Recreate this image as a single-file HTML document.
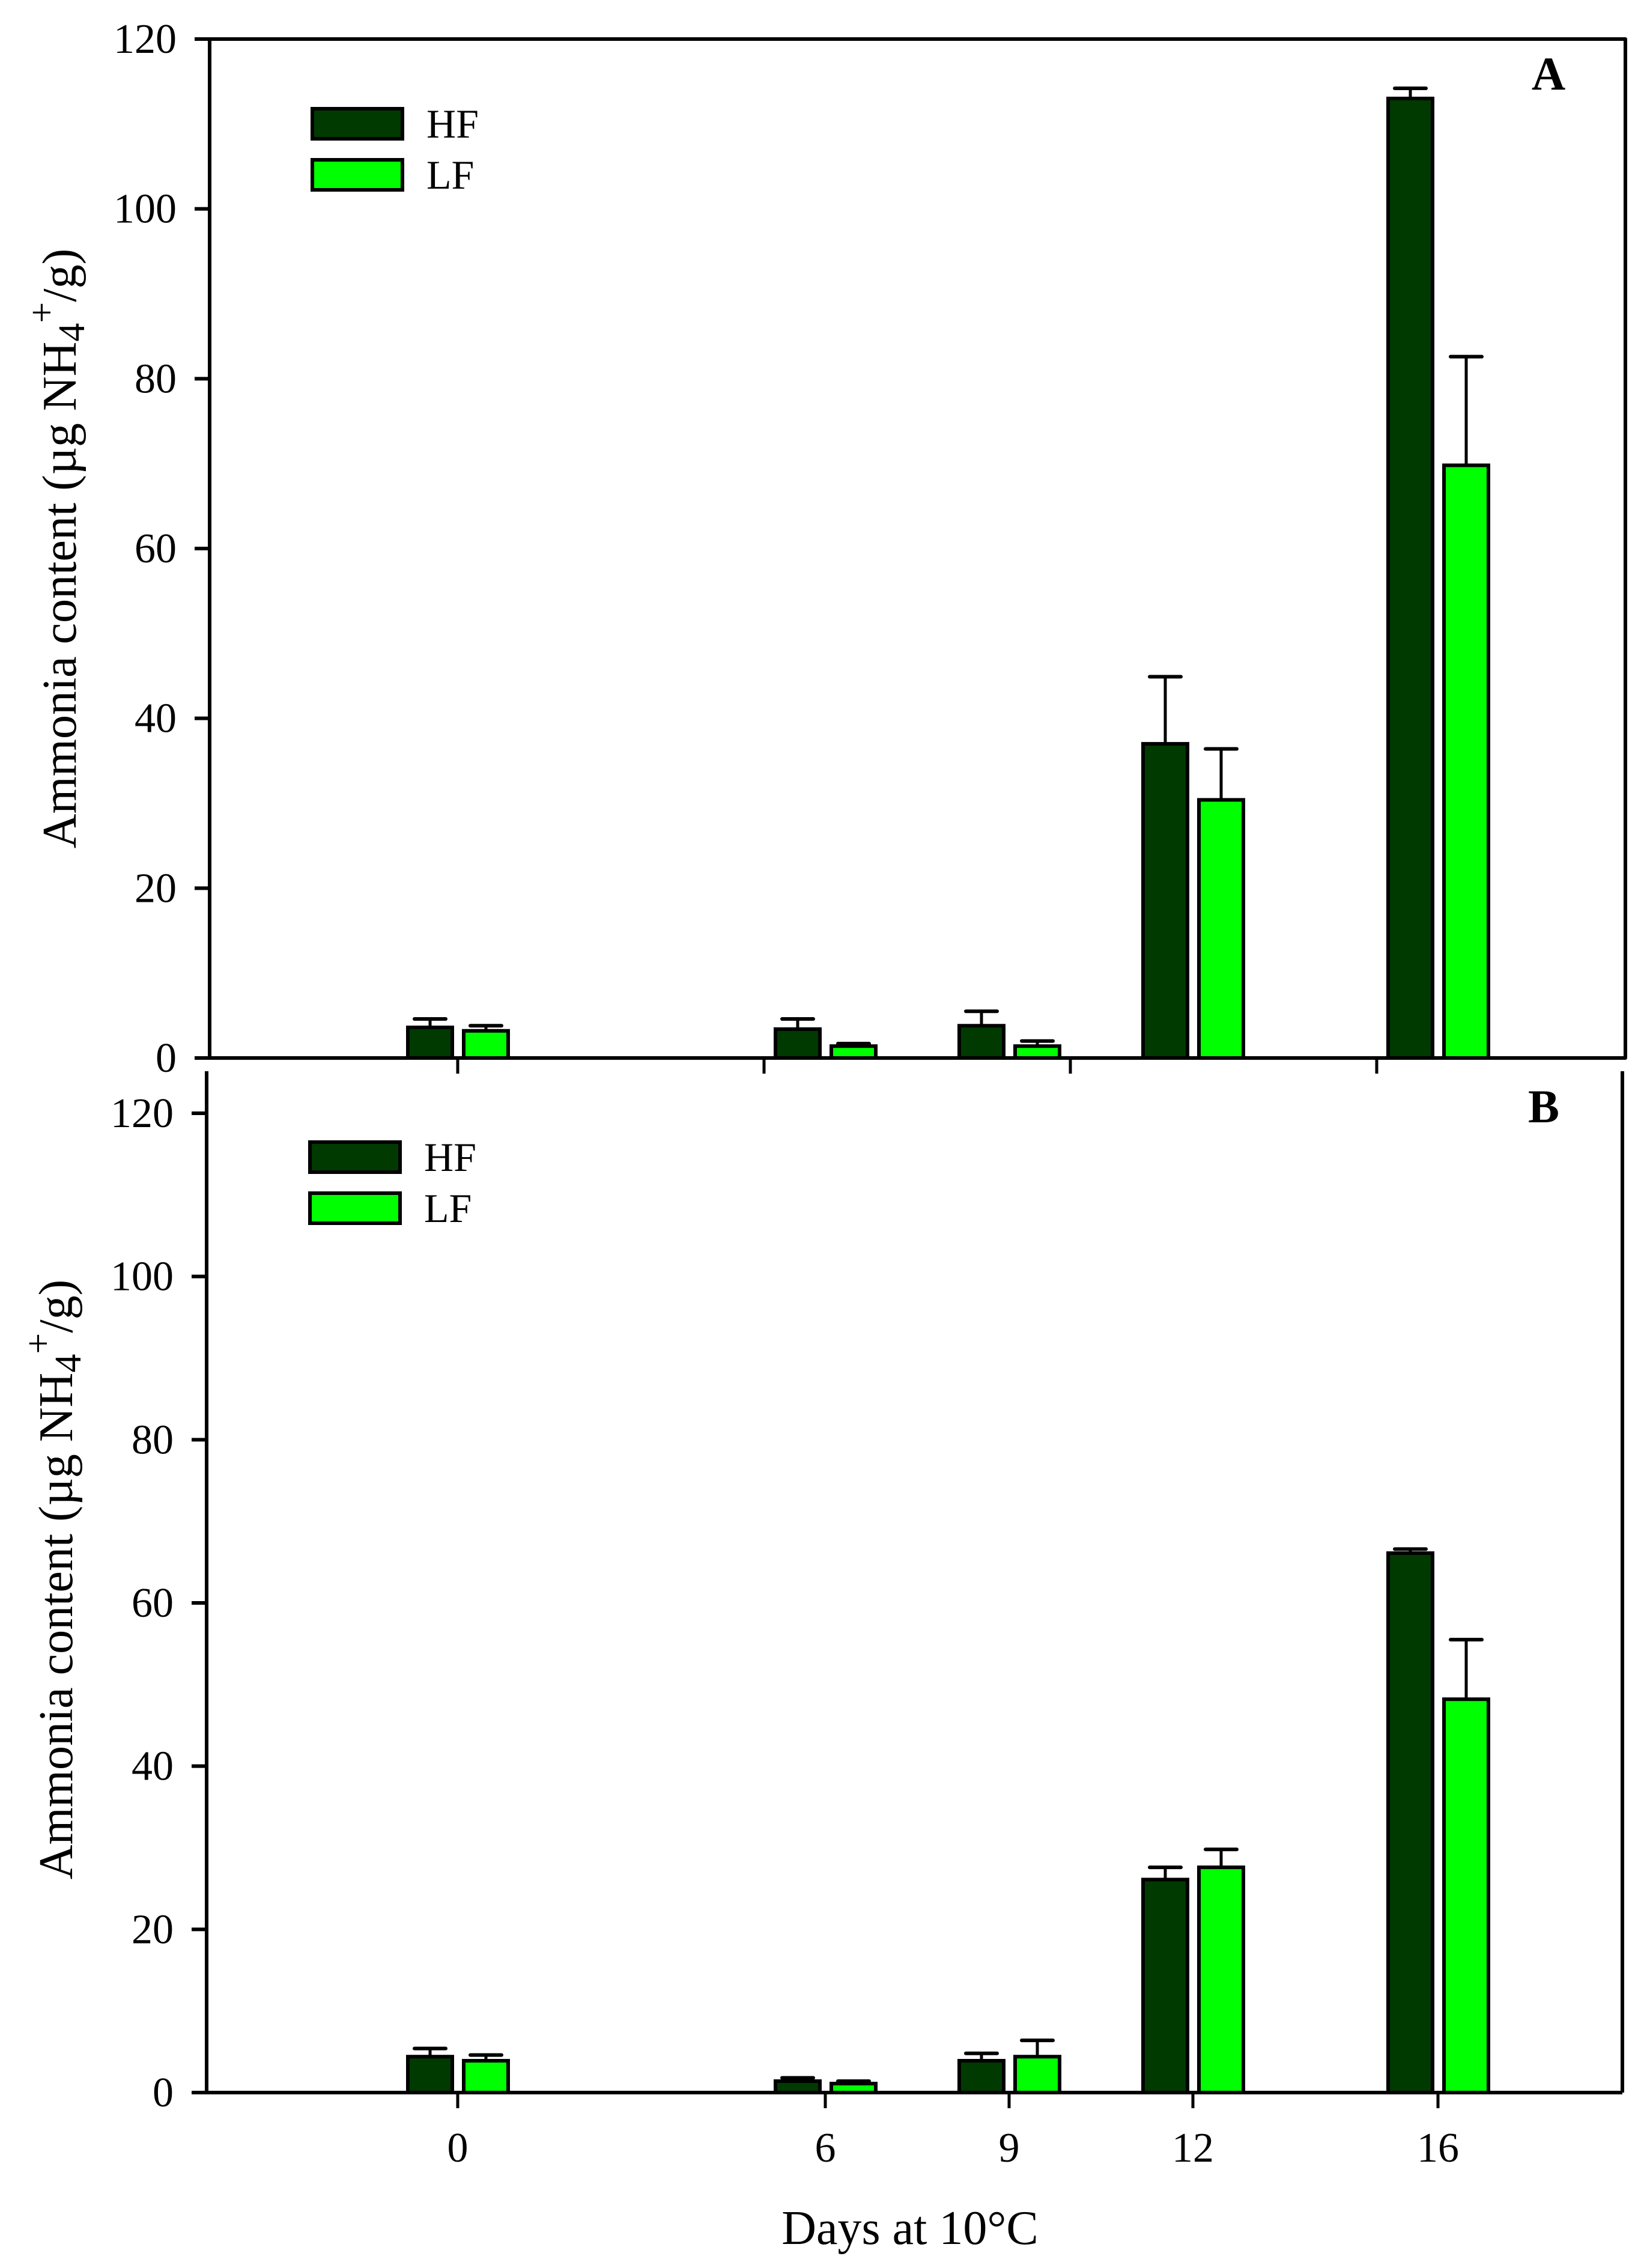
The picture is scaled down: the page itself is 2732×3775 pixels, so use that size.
<!DOCTYPE html>
<html><head><meta charset="utf-8"><style>
html,body{margin:0;padding:0;background:#fff;}
svg{display:block;font-family:"Liberation Serif",serif;}
</style></head><body>
<svg id="chart" width="2732" height="3775" viewBox="0 0 2732 3775" xmlns="http://www.w3.org/2000/svg">
<rect x="0" y="0" width="2732" height="3775" fill="#fff"/>
<text x="1515" y="3735" font-size="80" text-anchor="middle">Days at 10°C</text>
</svg>
<script>
const days = [0, 6, 9, 12, 16];
const hfA = [3.6, 3.4, 3.8, 37.0, 113.0];
const hfAErr = [1.0, 1.2, 1.7, 7.9, 1.2];
const lfA = [3.2, 1.4, 1.4, 30.4, 69.8];
const lfAErr = [0.6, 0.3, 0.6, 6.0, 12.8];
const hfB = [4.4, 1.4, 3.9, 26.1, 66.1];
const hfBErr = [1.0, 0.4, 0.9, 1.5, 0.5];
const lfB = [3.9, 1.1, 4.4, 27.6, 48.2];
const lfBErr = [0.7, 0.3, 2.0, 2.2, 7.3];
const yTicks = [0, 20, 40, 60, 80, 100, 120];
const xTickLabels = ["0", "6", "9", "12", "16"];
const aXTicks = [0, 5, 10, 15];

const NS = "http://www.w3.org/2000/svg";
const svg = document.getElementById("chart");
function mk(tag, attrs, parent) {
  const e = document.createElementNS(NS, tag);
  for (const k in attrs) e.setAttribute(k, attrs[k]);
  (parent || svg).appendChild(e);
  return e;
}
const xScale = d => 762 + 102.0 * d;
const DARK = "#003a00", LIGHT = "#00ff00";

function panel(p) {
  const g = mk("g", {});
  
  
  const y = v => p.y0 - (p.y0 - p.y120) * v / 120;
  // bars
  for (let i = 0; i < days.length; i++) {
    const c = xScale(days[i]);
    const series = [[p.hf, p.hfErr, DARK, c - 86, 'hf'], [p.lf, p.lfErr, LIGHT, c + 7, 'lf']];
    for (const s of series) {
      const v = s[0][i], e = s[1][i], x = s[3];
      const top = y(v), et = y(v + e), cx = x + 40;
      const el = mk("line", {x1: cx, x2: cx, y1: top, y2: et, stroke: "#000", "stroke-width": 5}, g);
      
      
      const cap = mk("line", {x1: cx - 26, x2: cx + 26, y1: et, y2: et, stroke: "#000", "stroke-width": 6, "stroke-linecap": "round"}, g);
      
      
      const r = mk("rect", {x: x + 3, y: top, width: 74, height: p.y0 - top, fill: s[2], stroke: "#000", "stroke-width": 6}, g);
      
      
    }
  }
  // axes
  const ax = mk("path", {d: p.frame, fill: "none", stroke: "#000", "stroke-width": 6, "stroke-linejoin": "round"}, g);
  
  
  for (const t of yTicks) {
    const ty = y(t);
    const tk = mk("line", {x1: p.left - 25, x2: p.left, y1: ty, y2: ty, stroke: "#000", "stroke-width": 6}, g);
    
    
    const tl = mk("text", {x: p.left - 55, y: ty + 23, "font-size": 70, "text-anchor": "end"}, g);
    tl.textContent = t;
    
    
  }
  for (const t of p.xticks) {
    const tx = xScale(t);
    const tk = mk("line", {x1: tx, x2: tx, y1: p.y0, y2: p.y0 + 26, stroke: "#000", "stroke-width": 5}, g);
    
    
  }
  if (p.labels) {
    for (let i = 0; i < days.length; i++) {
      const tl = mk("text", {x: xScale(days[i]), y: 3598, "font-size": 70, "text-anchor": "middle"}, g);
      tl.textContent = xTickLabels[i];
      
      
    }
  }
  // legend
  const lg = mk("g", {}, g);
  
  
  [[DARK, "HF", 0], [LIGHT, "LF", 85]].forEach(L => {
    const r = mk("rect", {x: p.legX, y: p.legY + L[2], width: 150, height: 50, fill: L[0], stroke: "#000", "stroke-width": 6}, lg);
    
    
    const t = mk("text", {x: p.legX + 190, y: p.legY + L[2] + 48, "font-size": 68}, lg);
    t.textContent = L[1];
    
    
  });
  // panel letter
  const pl = mk("text", {x: p.letX, y: p.letY, "font-size": 78, "font-weight": "bold", "text-anchor": "middle"}, g);
  pl.textContent = p.id;
  
  
  // y title
  const yt = mk("text", {transform: "translate(" + p.titleX + "," + p.titleY + ") rotate(-90)", "font-size": 80, "text-anchor": "middle"}, g);
  
  
  yt.innerHTML = 'Ammonia content (µg NH<tspan font-size="62" dy="14">4</tspan><tspan font-size="62" dy="-50">+</tspan><tspan dy="36">/g)</tspan>';
}

panel({id: "A", y0: 1761, y120: 65, left: 349, hf: hfA, hfErr: hfAErr, lf: lfA, lfErr: lfAErr,
  frame: "M324 65 L2706 65 L2706 1761 L324 1761 M349 65 L349 1761",
  xticks: aXTicks, labels: false, legX: 520, legY: 181, letX: 2578, letY: 149, titleX: 126, titleY: 913});
panel({id: "B", y0: 3483, y120: 1853, left: 344, hf: hfB, hfErr: hfBErr, lf: lfB, lfErr: lfBErr,
  frame: "M344 1783 L344 3483 M319 3483 L2701 3483 M2701 1783 L2701 3483",
  xticks: days, labels: true, legX: 516, legY: 1901, letX: 2570, letY: 1868, titleX: 120, titleY: 2629});
</script>
</body></html>
